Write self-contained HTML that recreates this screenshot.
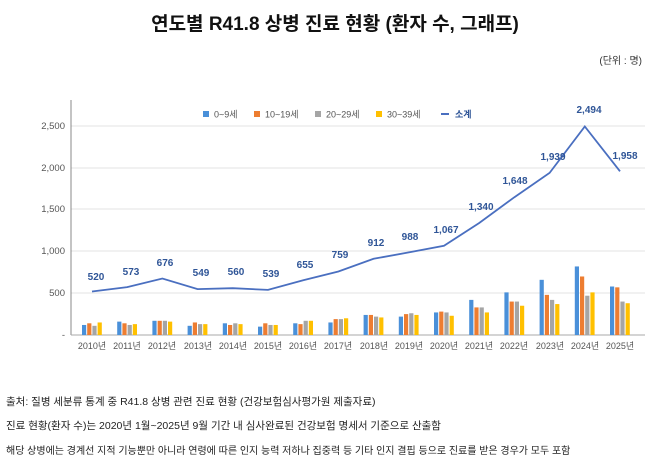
<!DOCTYPE html>
<html><head><meta charset="utf-8"><style>
body{margin:0;width:670px;height:460px;background:#fff;font-family:"Liberation Sans","Noto Sans CJK KR",sans-serif;overflow:hidden;position:relative}
.t{position:absolute;left:0;width:670px;top:9px;text-align:center;font-size:19px;font-weight:bold;color:#111}
.u{position:absolute;right:28px;top:52px;font-size:10px;color:#333}
.f{position:absolute;left:6px;font-size:10.5px;color:#222}
</style></head><body>
<div class="t">연도별 R41.8 상병 진료 현황 (환자 수, 그래프)</div>
<div class="u">(단위 : 명)</div>
<svg width="670" height="460" style="position:absolute;left:0;top:0">
<g stroke="#e3e3e3" stroke-width="1">
<line x1="71" y1="126" x2="645" y2="126"/><line x1="71" y1="168" x2="645" y2="168"/><line x1="71" y1="209" x2="645" y2="209"/><line x1="71" y1="251" x2="645" y2="251"/><line x1="71" y1="293" x2="645" y2="293"/>
</g>
<line x1="71" y1="100" x2="71" y2="335" stroke="#888"/>
<line x1="71" y1="335" x2="645" y2="335" stroke="#aaa"/>
<g font-size="9.5" fill="#555" text-anchor="end">
<text x="65" y="129">2,500</text><text x="65" y="171">2,000</text><text x="65" y="212">1,500</text><text x="65" y="254">1,000</text><text x="65" y="296">500</text><text x="65" y="338">-</text>
</g>
<g id="bars"></g>
<polyline fill="none" stroke="#4a6fc0" stroke-width="1.8" points="92,291.5 127.2,287.1 162.4,278.5 197.6,289.1 232.8,288.2 268,289.9 303.2,280.2 338.4,271.5 373.6,258.8 408.8,252.4 444,245.8 479.2,223 514.4,197.2 549.6,172.9 584.8,126.5 620,171.3"/>
<g font-size="10" font-weight="bold" fill="#2f5597" text-anchor="middle">
<text x="96" y="280">520</text><text x="131" y="275">573</text><text x="165" y="266">676</text><text x="201" y="276">549</text><text x="236" y="275">560</text><text x="271" y="277">539</text><text x="305" y="268">655</text><text x="340" y="258">759</text><text x="376" y="246">912</text><text x="410" y="240">988</text><text x="446" y="233">1,067</text><text x="481" y="210">1,340</text><text x="515" y="184">1,648</text><text x="553" y="160">1,939</text><text x="589" y="113">2,494</text><text x="625" y="159">1,958</text>
</g>
<g font-size="9" fill="#555" text-anchor="middle">
<text x="92" y="349">2010년</text><text x="127" y="349">2011년</text><text x="162" y="349">2012년</text><text x="198" y="349">2013년</text><text x="233" y="349">2014년</text><text x="268" y="349">2015년</text><text x="303" y="349">2016년</text><text x="338" y="349">2017년</text><text x="374" y="349">2018년</text><text x="409" y="349">2019년</text><text x="444" y="349">2020년</text><text x="479" y="349">2021년</text><text x="514" y="349">2022년</text><text x="550" y="349">2023년</text><text x="585" y="349">2024년</text><text x="620" y="349">2025년</text>
</g>
<g font-size="9" fill="#555">
<rect x="203" y="111" width="6" height="6" fill="#4a90d9"/><text x="214" y="117.5">0~9세</text>
<rect x="254" y="111" width="6" height="6" fill="#ed7d31"/><text x="265" y="117.5">10~19세</text>
<rect x="315" y="111" width="6" height="6" fill="#a5a5a5"/><text x="326" y="117.5">20~29세</text>
<rect x="376" y="111" width="6" height="6" fill="#ffc000"/><text x="387" y="117.5">30~39세</text>
<rect x="441" y="113" width="8" height="2" fill="#4a6fc0"/><text x="455" y="117.5" fill="#2f5597" font-weight="bold">소계</text>
</g>
</svg>
<div class="f" style="top:394px">출처: 질병 세분류 통계 중 R41.8 상병 관련 진료 현황 (건강보험심사평가원 제출자료)</div>
<div class="f" style="top:418px">진료 현황(환자 수)는 2020년 1월~2025년 9월 기간 내 심사완료된 건강보험 명세서 기준으로 산출함</div>
<div class="f" style="top:442px;font-size:10px">해당 상병에는 경계선 지적 기능뿐만 아니라 연령에 따른 인지 능력 저하나 집중력 등 기타 인지 결핍 등으로 진료를 받은 경우가 모두 포함</div>
<script>
var d=[[120,140,110,150],[160,140,120,130],[170,170,170,160],[110,150,130,130],[140,120,140,130],[100,140,120,120],[140,130,170,170],[150,190,190,200],[240,240,220,210],[220,250,260,240],[270,280,270,230],[420,330,330,270],[510,400,400,350],[660,480,420,370],[820,700,470,510],[580,570,400,380]];
var c=["#4a90d9","#ed7d31","#a5a5a5","#ffc000"],s="";
d.forEach(function(r,i){var cx=92+35.2*i;r.forEach(function(v,j){var h=v*0.0836;s+='<rect x="'+(cx-10+j*5.2)+'" y="'+(335-h)+'" width="4.2" height="'+h+'" fill="'+c[j]+'"/>';});});
document.getElementById("bars").innerHTML=s;
</script>
</body></html>
